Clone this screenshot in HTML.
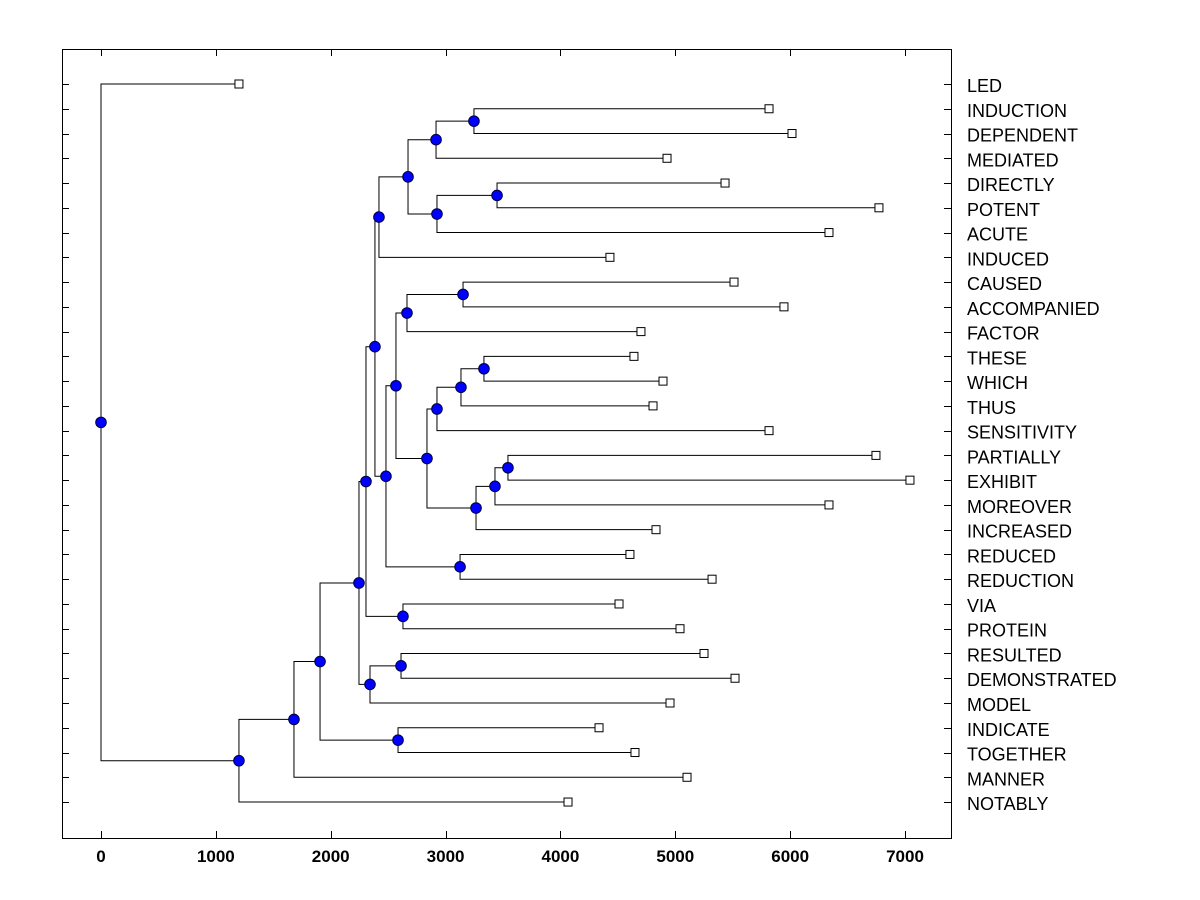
<!DOCTYPE html>
<html><head><meta charset="utf-8"><style>
html,body{margin:0;padding:0;background:#fff;}
svg{display:block;font-family:"Liberation Sans",Arial,sans-serif;}
</style></head><body>
<svg id="chart" width="1200" height="900" xmlns="http://www.w3.org/2000/svg">
<rect x="0" y="0" width="1200" height="900" fill="#fff"/>
<g id="lines"></g>
<g id="marks"></g>
<g id="axes"></g>
</svg>
<script>
const leafNames = ["LED","INDUCTION","DEPENDENT","MEDIATED","DIRECTLY","POTENT","ACUTE","INDUCED","CAUSED","ACCOMPANIED","FACTOR","THESE","WHICH","THUS","SENSITIVITY","PARTIALLY","EXHIBIT","MOREOVER","INCREASED","REDUCED","REDUCTION","VIA","PROTEIN","RESULTED","DEMONSTRATED","MODEL","INDICATE","TOGETHER","MANNER","NOTABLY"];
const leafHeights = [1201,5816,6016,4928,5433,6773,6338,4431,5511,5946,4701,4640,4893,4806,5816,6747,7043,6338,4832,4605,5320,4510,5041,5250,5520,4954,4336,4649,5102,4066];
// [childA, childB, height]; ids >= 30 refer to earlier merges
const merges = [
[1,2,3247],[30,3,2917],[4,5,3448],[32,6,2925],[31,33,2673],[34,7,2420],
[8,9,3152],[36,10,2664],[11,12,3334],[38,13,3134],[39,14,2925],
[15,16,3543],[41,17,3430],[42,18,3265],[40,43,2838],[37,44,2568],
[19,20,3126],[45,46,2481],[35,47,2385],[21,22,2629],[48,49,2307],
[23,24,2612],[51,25,2342],[50,52,2246],[26,27,2586],[53,54,1907],
[55,28,1680],[56,29,1201],[0,57,0]
];
const xTicks = [0,1000,2000,3000,4000,5000,6000,7000];

const NS="http://www.w3.org/2000/svg";
const X0=62,X1=951,Y0=49,Y1=838;
function xs(v){return 101 + v*0.11486;}
function ys(i){return 84 + i*24.76;}
function mk(tag,attrs,parent){const e=document.createElementNS(NS,tag);for(const k in attrs)e.setAttribute(k,attrs[k]);parent.appendChild(e);return e;}
const gL=document.getElementById('lines'),gM=document.getElementById('marks'),gA=document.getElementById('axes');
const N=leafNames.length;
const pos=[];
for(let i=0;i<N;i++)pos.push({x:xs(leafHeights[i]),y:ys(i)});
merges.forEach((m,k)=>{
  const a=pos[m[0]],b=pos[m[1]],x=xs(m[2]);
  const y=(a.y+b.y)/2;
  const p=mk('path',{d:`M${a.x},${a.y}H${x}V${b.y}H${b.x}`,fill:'none',stroke:'#000','stroke-width':1},gL);
  
  
  pos.push({x:x,y:y});
});
for(let i=0;i<N;i++){
  const r=mk('rect',{x:pos[i].x-4,y:pos[i].y-4,width:8,height:8,fill:'#fff',stroke:'#000','stroke-width':1},gM);
  
  
}
merges.forEach((m,k)=>{
  const p=pos[N+k];
  const c=mk('circle',{cx:p.x,cy:p.y,r:5.3,fill:'#0000ff',stroke:'#000040','stroke-width':1},gM);
  
  
});
const fr=mk('rect',{x:X0+0.5,y:Y0+0.5,width:X1-X0,height:Y1-Y0,fill:'none',stroke:'#000','stroke-width':1},gA);


for(let i=0;i<N;i++){
  const y=Math.round(ys(i))+0.5;
  mk('line',{x1:X0,x2:X0+7,y1:y,y2:y,stroke:'#000'},gA);
  mk('line',{x1:X1-7,x2:X1,y1:y,y2:y,stroke:'#000'},gA);
  const t=mk('text',{x:967,y:ys(i)+8,'font-size':18,fill:'#000'},gA);
  t.textContent=leafNames[i];
  
  
}
xTicks.forEach(v=>{
  const x=Math.round(xs(v))+0.5;
  mk('line',{x1:x,x2:x,y1:Y0,y2:Y0+7,stroke:'#000'},gA);
  mk('line',{x1:x,x2:x,y1:Y1-7,y2:Y1,stroke:'#000'},gA);
  const t=mk('text',{x:xs(v),y:862,'font-size':17,'font-weight':'bold','text-anchor':'middle',fill:'#000'},gA);
  t.textContent=v;
  
  
});
</script>
</body></html>
